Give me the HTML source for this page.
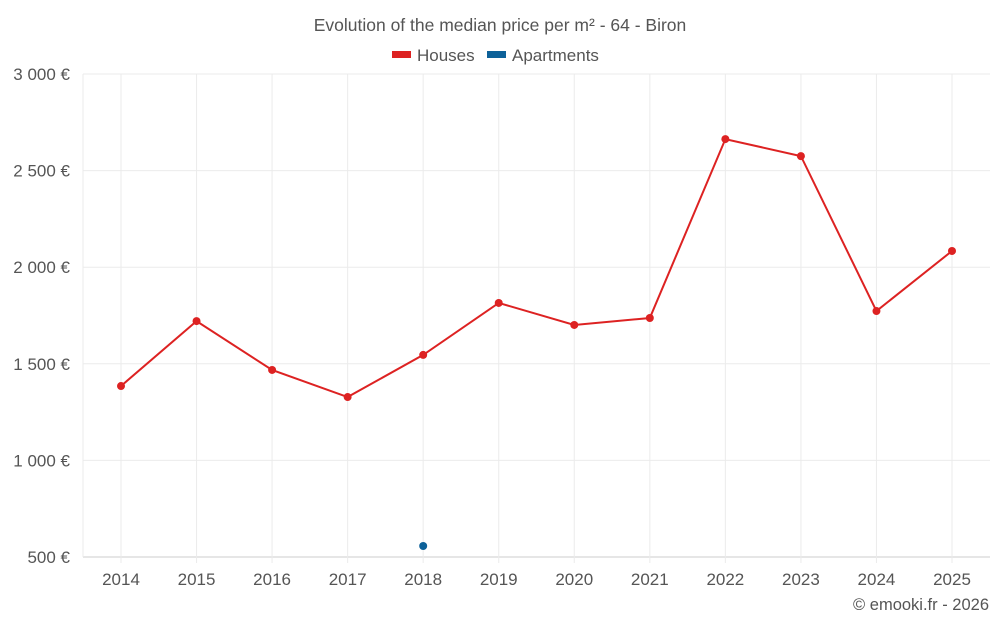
<!DOCTYPE html>
<html><head><meta charset="utf-8"><style>
body{margin:0;background:#fff;font-family:"Liberation Sans",sans-serif;}
svg text{font-family:"Liberation Sans",sans-serif;fill:#555;}
</style></head><body>
<svg width="1000" height="625" id="chart">
<text x="500" y="31" text-anchor="middle" font-size="17.5">Evolution of the median price per m² - 64 - Biron</text>
<g><rect x="392" y="51" width="19" height="7" fill="#dd2222"/><text x="417" y="61" font-size="17">Houses</text></g>
<g><rect x="487" y="51" width="19" height="7" fill="#0d6199"/><text x="512" y="61" font-size="17">Apartments</text></g>
<g id="grid"></g><g id="axes"></g><g id="marks"></g>
<text x="989" y="610" text-anchor="end" font-size="16.5">© emooki.fr - 2026</text>
</svg>
<script>
const categories=["2014","2015","2016","2017","2018","2019","2020","2021","2022","2023","2024","2025"];
const houses=[1385,1721,1468,1328,1546,1815,1701,1737,2663,2575,1773,2084];
const apartments=[null,null,null,null,557,null,null,null,null,null,null,null];
const yTicks=[500,1000,1500,2000,2500,3000];
const yTickLabels=["500 €","1 000 €","1 500 €","2 000 €","2 500 €","3 000 €"];
const NS="http://www.w3.org/2000/svg";
const L=83,R=990,T=74,B=557,x0=121,x1=952;
const x=i=>x0+i*(x1-x0)/(categories.length-1);
const y=v=>B-(v-500)/2500*(B-T);
function mk(tag,attrs,parent){const e=document.createElementNS(NS,tag);for(const k in attrs)e.setAttribute(k,attrs[k]);document.getElementById(parent).appendChild(e);return e;}
yTicks.forEach((t,i)=>{
 const g=mk("line",{x1:L,x2:R,y1:y(t),y2:y(t),stroke:i==0?"#ccc":"#ebebeb"},"grid");
 
 
 const tx=mk("text",{x:70,y:y(t)+6,"text-anchor":"end","font-size":"17"},"axes");tx.textContent=yTickLabels[i];
 
 
});
const lg=mk("line",{x1:L,x2:L,y1:T,y2:B,stroke:"#ebebeb"},"grid");


categories.forEach((c,i)=>{
 const g=mk("line",{x1:x(i),x2:x(i),y1:T,y2:B+6,stroke:"#ebebeb"},"grid");
 
 
 const tx=mk("text",{x:x(i),y:585,"text-anchor":"middle","font-size":"17"},"axes");tx.textContent=c;
 
 
});
const pl=mk("polyline",{points:houses.map((v,i)=>x(i)+","+y(v)).join(" "),fill:"none",stroke:"#dd2222","stroke-width":2},"marks");


houses.forEach((v,i)=>{const c=mk("circle",{cx:x(i),cy:y(v),r:4,fill:"#dd2222"},"marks");
 
 });
apartments.forEach((v,i)=>{if(v==null)return;const c=mk("circle",{cx:x(i),cy:y(v),r:4,fill:"#0d6199"},"marks");
 
 });
</script>
</body></html>
